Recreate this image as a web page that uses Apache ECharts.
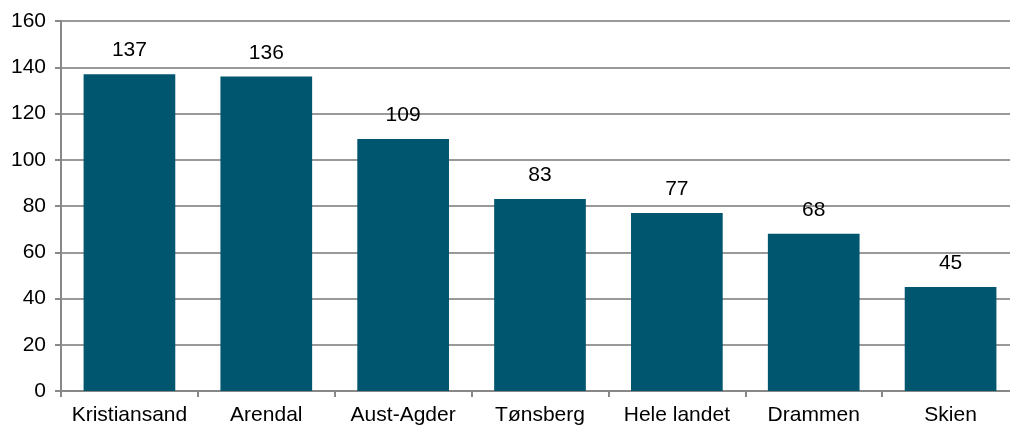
<!DOCTYPE html>
<html>
<head>
<meta charset="utf-8">
<script src="https://cdn.jsdelivr.net/npm/echarts@6/dist/echarts.min.js"></script>
<style>
  html, body { margin: 0; padding: 0; background: #fff; overflow: hidden; }
  #chart { width: 1019px; height: 427px; }
</style>
</head>
<body>
<div id="chart"></div>
<script>
// data
const categories = ['Kristiansand', 'Arendal', 'Aust-Agder', 'Tønsberg', 'Hele landet', 'Drammen', 'Skien'];
const values = [137, 136, 109, 83, 77, 68, 45];

const FONT = '"Liberation Sans", Arial, sans-serif';

// the plot runs past the right edge in the reference, so the canvas is a little wider than the window
const chart = echarts.init(document.getElementById('chart'), null, { renderer: 'canvas' });
chart.setOption({
  animation: false,
  backgroundColor: '#fff',
  grid: { left: 61, right: 0, top: 21, bottom: 36, containLabel: false },
  xAxis: {
    type: 'category',
    data: categories,
    axisLine: { lineStyle: { color: '#888', width: 2 } },
    axisTick: { show: true, alignWithLabel: false, length: 6, lineStyle: { color: '#888', width: 2 } },
    axisLabel: { color: '#000', fontSize: 21, fontFamily: FONT, margin: 14, interval: 0 },
  },
  yAxis: {
    type: 'value',
    min: 0,
    max: 160,
    interval: 20,
    axisLine: { show: true, lineStyle: { color: '#888', width: 2 } },
    axisTick: { show: true, length: 6, lineStyle: { color: '#888', width: 2 } },
    axisLabel: { color: '#000', fontSize: 21, fontFamily: FONT, margin: 15 },
    splitLine: { lineStyle: { color: '#999', width: 2 } },
  },
  series: [{
    type: 'bar',
    data: values,
    barCategoryGap: '33%',
    itemStyle: { color: '#00566E' },
    label: {
      show: true,
      position: 'top',
      distance: 13,
      color: '#000',
      fontSize: 21,
      fontFamily: FONT,
    },
  }],
});
</script>
</body>
</html>
